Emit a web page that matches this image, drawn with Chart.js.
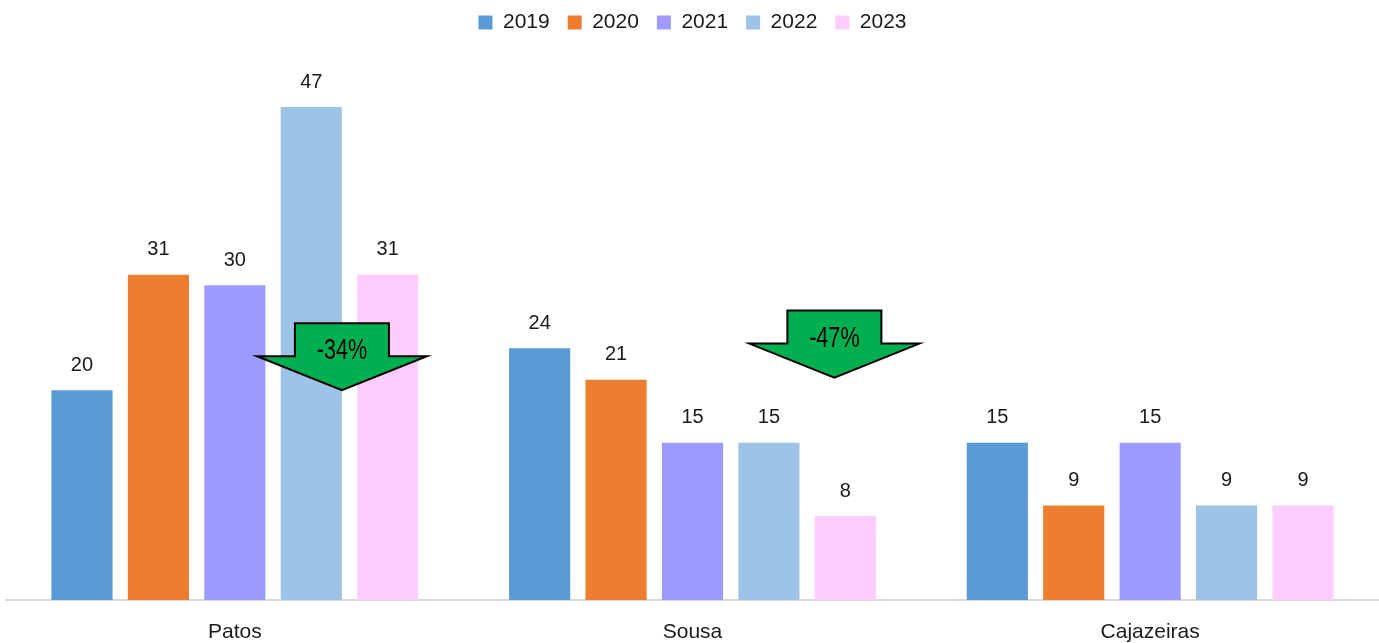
<!DOCTYPE html>
<html>
<head>
<meta charset="utf-8">
<script src="https://cdn.jsdelivr.net/npm/chart.js@4.4.1/dist/chart.umd.min.js"></script>
<style>
  html, body { margin: 0; padding: 0; background: #fff; overflow: hidden; }
  #chart { display: block; }
</style>
</head>
<body>
<canvas id="chart" width="1379" height="643"></canvas>
<script>
// dati
const cidades = ["Patos", "Sousa", "Cajazeiras"];
const anos = ["2019", "2020", "2021", "2022", "2023"];
const valores2019 = [20, 24, 15];
const valores2020 = [31, 21, 9];
const valores2021 = [30, 15, 15];
const valores2022 = [47, 15, 9];
const valores2023 = [31, 8, 9];
const variacoes = ["-34%", "-47%"];

const cores = ["#5b9bd5", "#ed7d31", "#9d9bff", "#9dc3e6", "#ffccff"];
const series = [valores2019, valores2020, valores2021, valores2022, valores2023];

// etichette sopra le barre
const valueLabels = {
  id: "valueLabels",
  afterDatasetsDraw(chart) {
    const ctx = chart.ctx;
    ctx.save();
    ctx.font = "20px 'Liberation Sans'";
    ctx.fillStyle = "#1a1a1a";
    ctx.textAlign = "center";
    ctx.textBaseline = "middle";
    chart.data.datasets.forEach((ds, i) => {
      chart.getDatasetMeta(i).data.forEach((bar, j) => {
        ctx.fillText(ds.data[j], bar.x, bar.y - 25);
      });
    });
    ctx.restore();
  }
};

// frecce verdi
const arrows = {
  id: "arrows",
  afterDraw(chart, args, opts) {
    const ctx = chart.ctx;
    const xs = chart.scales.x, ys = chart.scales.y;
    const catW = xs.getPixelForValue(1) - xs.getPixelForValue(0);
    opts.items.forEach((a, i) => {
      const cx = xs.getPixelForValue(a.cat) + a.shift * catW;
      const tip = ys.getPixelForValue(a.tip);
      const top = tip - 67, mid = tip - 34;
      ctx.save();
      ctx.beginPath();
      ctx.moveTo(cx - 47, top);
      ctx.lineTo(cx + 47, top);
      ctx.lineTo(cx + 47, mid);
      ctx.lineTo(cx + 85, mid);
      ctx.lineTo(cx, tip);
      ctx.lineTo(cx - 85, mid);
      ctx.lineTo(cx - 47, mid);
      ctx.closePath();
      ctx.fillStyle = "#00b050";
      ctx.fill();
      ctx.lineWidth = 2;
      ctx.strokeStyle = "#000";
      ctx.lineJoin = "miter";
      ctx.stroke();
      // testo "stretto"
      ctx.translate(cx, top + 28);
      ctx.scale(0.8, 1.1);
      ctx.font = "27px 'Liberation Sans'";
      ctx.fillStyle = "#000";
      ctx.textAlign = "center";
      ctx.textBaseline = "middle";
      ctx.fillText(variacoes[i], 0, 0);
      ctx.restore();
    });
  }
};

new Chart(document.getElementById("chart"), {
  type: "bar",
  data: {
    labels: cidades,
    datasets: anos.map((ano, i) => ({
      label: ano,
      data: series[i],
      backgroundColor: cores[i],
      borderWidth: 0,
      categoryPercentage: 0.835,
      barPercentage: 0.8,
    })),
  },
  options: {
    responsive: false,
    animation: false,
    layout: { padding: { left: 6, right: 0, top: -6, bottom: 0 } },
    plugins: {
      legend: {
        position: "top",
        labels: {
          boxWidth: 14,
          boxHeight: 14,
          padding: 18,
          color: "#1a1a1a",
          font: { family: "'Liberation Sans'", size: 21 },
        },
      },
      tooltip: { enabled: false },
      arrows: {
        items: [
          { cat: 0, shift: 0.234, tip: 20 },
          { cat: 1, shift: 0.31, tip: 21.2 },
        ],
      },
    },
    scales: {
      x: {
        grid: { display: false, drawTicks: false },
        border: { display: true, color: "#d9d9d9", width: 2 },
        ticks: {
          color: "#1a1a1a",
          padding: 20,
          font: { family: "'Liberation Sans'", size: 21 },
        },
        afterFit: (scale) => { scale.height = 43; },
      },
      y: {
        display: false,
        min: 0,
        max: 53.1,
      },
    },
  },
  plugins: [valueLabels, arrows],
});
</script>
</body>
</html>
